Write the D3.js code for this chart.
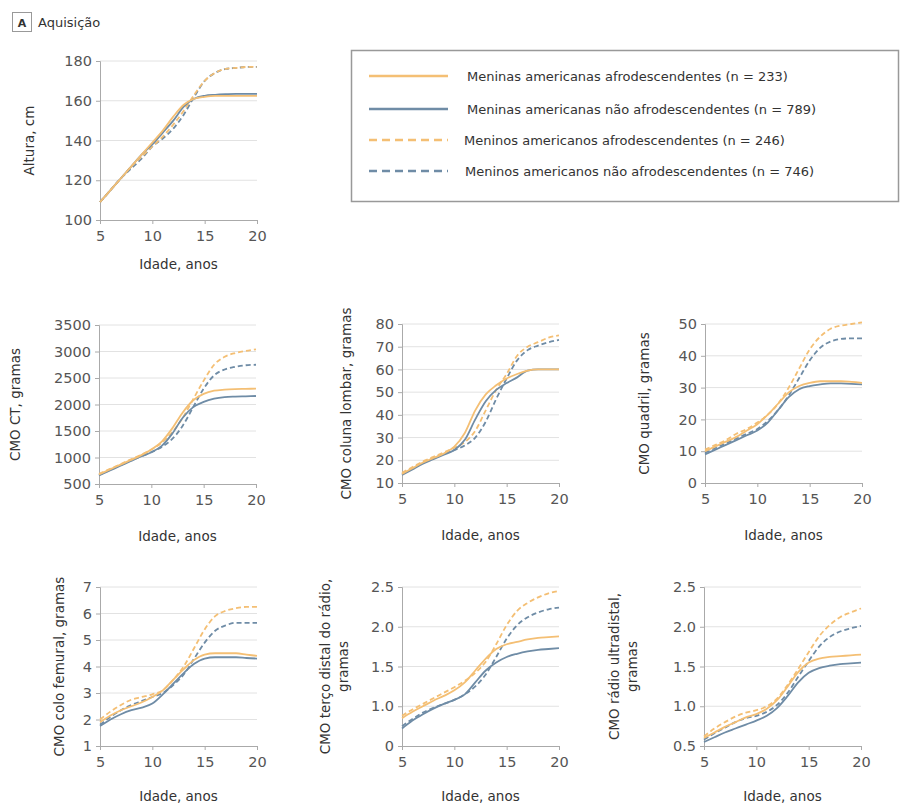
<!DOCTYPE html>
<html>
<head>
<meta charset="utf-8">
<script src="https://cdn.jsdelivr.net/npm/d3@7"></script>
<style>
  body { margin: 0; background: #fff; }
  .tick text { font-family: "DejaVu Sans", Verdana, sans-serif; fill: #555; }
  .axis-title { font-family: "DejaVu Sans", Verdana, sans-serif; font-size: 13.5px; fill: #333; }
</style>
</head>
<body>
<div id="chart"></div>
<script>
// ages (x values), shared by all panels
var ages = [5, 6, 7, 8, 9, 10, 11, 12, 13, 14, 15, 16, 17, 18, 19, 20];

var seriesNames = [
  "Meninas americanas afrodescendentes (n = 233)",
  "Meninas americanas não afrodescendentes (n = 789)",
  "Meninos americanos afrodescendentes (n = 246)",
  "Meninos americanos não afrodescendentes (n = 746)"
];

// Altura, cm
var alturaGirlsAfro    = [109, 115, 121, 127, 133, 139, 145, 152, 158, 161, 162, 162.5, 162.5, 162.5, 162.5, 162.5];
var alturaGirlsNonAfro = [109, 115, 121, 127, 133, 138, 144, 150, 157, 161, 162.5, 163, 163.3, 163.5, 163.5, 163.5];
var alturaBoysAfro     = [109, 115, 121, 127, 132, 137, 142, 148, 155, 163, 170, 174, 176, 176.5, 177, 177];
var alturaBoysNonAfro  = [109, 115, 121, 126, 131, 137, 141, 146, 153, 162, 170, 174, 176, 176.5, 177, 177];

// CMO CT, gramas
var ctGirlsAfro    = [680, 770, 860, 950, 1040, 1150, 1300, 1550, 1850, 2080, 2200, 2260, 2280, 2290, 2295, 2300];
var ctGirlsNonAfro = [660, 750, 840, 930, 1020, 1100, 1220, 1450, 1750, 1950, 2050, 2110, 2140, 2150, 2155, 2160];
var ctBoysAfro     = [690, 780, 870, 960, 1050, 1150, 1280, 1480, 1750, 2100, 2450, 2750, 2900, 2970, 3010, 3040];
var ctBoysNonAfro  = [670, 760, 850, 940, 1020, 1100, 1200, 1350, 1600, 1950, 2300, 2550, 2660, 2710, 2740, 2750];

// CMO coluna lombar, gramas
var lombarGirlsAfro    = [14, 16.5, 19, 21, 23, 26, 32, 42, 49, 53, 56, 58, 59.5, 60, 60, 60];
var lombarGirlsNonAfro = [13.5, 16, 18.5, 20.5, 22.5, 24.5, 29, 38, 46, 51, 54, 56.5, 59.5, 60, 60, 60];
var lombarBoysAfro     = [14.5, 17, 19.5, 21.5, 23.5, 25.5, 28, 33, 42, 51, 58, 66, 70, 72, 74, 75];
var lombarBoysNonAfro  = [14, 16.5, 19, 21, 23, 24.5, 26.5, 30, 37, 47, 56, 64, 68.5, 70.5, 72, 73];

// CMO quadril, gramas
var quadrilGirlsAfro    = [10, 11.5, 13, 14.5, 16.5, 18.5, 21.5, 25, 28.5, 30.5, 31.5, 32, 32, 32, 31.8, 31.5];
var quadrilGirlsNonAfro = [9, 10.5, 12, 13.5, 15, 16.5, 19, 23, 27, 29.5, 30.5, 31, 31.3, 31.3, 31.2, 31];
var quadrilBoysAfro     = [10.5, 12, 13.5, 15.5, 17, 19, 21.5, 25, 30, 36, 42, 46, 48.5, 49.5, 50, 50.5];
var quadrilBoysNonAfro  = [9.5, 11, 12.5, 14, 15.5, 17, 19.5, 23, 27.5, 33, 38.5, 42.5, 44.5, 45.3, 45.5, 45.5];

// CMO colo femural, gramas
var femurGirlsAfro    = [1.9, 2.15, 2.35, 2.5, 2.65, 2.85, 3.1, 3.5, 3.9, 4.25, 4.45, 4.5, 4.5, 4.5, 4.45, 4.4];
var femurGirlsNonAfro = [1.75, 2.0, 2.2, 2.35, 2.45, 2.6, 2.95, 3.35, 3.75, 4.1, 4.3, 4.35, 4.35, 4.35, 4.32, 4.3];
var femurBoysAfro     = [2.0, 2.3, 2.55, 2.75, 2.85, 2.95, 3.1, 3.5, 4.0, 4.7, 5.4, 5.9, 6.1, 6.2, 6.25, 6.25];
var femurBoysNonAfro  = [1.8, 2.1, 2.35, 2.55, 2.7, 2.85, 3.0, 3.3, 3.7, 4.3, 4.9, 5.35, 5.55, 5.65, 5.65, 5.65];

// CMO terço distal do rádio, gramas
var distalGirlsAfro    = [0.85, 0.93, 1.0, 1.07, 1.13, 1.2, 1.3, 1.45, 1.6, 1.72, 1.78, 1.81, 1.84, 1.86, 1.87, 1.88];
var distalGirlsNonAfro = [0.72, 0.82, 0.9, 0.97, 1.03, 1.08, 1.15, 1.3, 1.45, 1.55, 1.62, 1.66, 1.69, 1.71, 1.72, 1.73];
var distalBoysAfro     = [0.88, 0.96, 1.03, 1.1, 1.17, 1.24, 1.32, 1.42, 1.56, 1.78, 2.02, 2.2, 2.3, 2.37, 2.42, 2.45];
var distalBoysNonAfro  = [0.75, 0.84, 0.92, 0.98, 1.03, 1.08, 1.15, 1.25, 1.4, 1.62, 1.85, 2.02, 2.12, 2.18, 2.22, 2.24];

// CMO rádio ultradistal, gramas
var ultraGirlsAfro    = [0.6, 0.67, 0.74, 0.8, 0.86, 0.9, 0.97, 1.08, 1.25, 1.43, 1.55, 1.6, 1.62, 1.63, 1.64, 1.65];
var ultraGirlsNonAfro = [0.55, 0.61, 0.67, 0.72, 0.77, 0.82, 0.88, 0.98, 1.13, 1.3, 1.42, 1.48, 1.51, 1.53, 1.54, 1.55];
var ultraBoysAfro     = [0.62, 0.72, 0.8, 0.87, 0.92, 0.95, 1.0, 1.1, 1.27, 1.47, 1.68, 1.88, 2.02, 2.12, 2.18, 2.23];
var ultraBoysNonAfro  = [0.58, 0.66, 0.73, 0.8, 0.85, 0.88, 0.93, 1.02, 1.17, 1.37, 1.57, 1.75, 1.87, 1.94, 1.98, 2.01];

// y tick values and labels for each panel
var alturaTicks = [100, 120, 140, 160, 180];
var ctTicks = [500, 1000, 1500, 2000, 2500, 3000, 3500];
var lombarTicks = [10, 20, 30, 40, 50, 60, 70, 80];
var quadrilTicks = [0, 10, 20, 30, 40, 50];
var femurTicks = [1, 2, 3, 4, 5, 6, 7];
var distalTicks = [0.5, 1.0, 1.5, 2.0, 2.5];
var distalTickLabels = ["0", "1.0", "1.5", "2.0", "2.5"];
var ultraTicks = [0.5, 1.0, 1.5, 2.0, 2.5];
var ultraTickLabels = ["0.5", "1.0", "1.5", "2.0", "2.5"];
var xTicks = [5, 10, 15, 20];

var orange = "#f4bf74";
var blue = "#6f8ca6";
var colors = [orange, blue, orange, blue];
var dashes = [null, null, "5,3", "5,3"];

var svg = d3.select("#chart").append("svg")
  .attr("width", 912)
  .attr("height", 807);

// panel boxes: left/top of plot area
var panelW = 157, panelH = 159;
var panels = [
  { left: 100, top: 61, ticks: alturaTicks, labels: null, title: ["Altura, cm"], tx: 29, xt: 49,
    data: [alturaGirlsAfro, alturaGirlsNonAfro, alturaBoysAfro, alturaBoysNonAfro] },
  { left: 99, top: 325, ticks: ctTicks, labels: null, title: ["CMO CT, gramas"], tx: 15, xt: 57,
    data: [ctGirlsAfro, ctGirlsNonAfro, ctBoysAfro, ctBoysNonAfro] },
  { left: 402, top: 324, ticks: lombarTicks, labels: null, title: ["CMO coluna lombar, gramas"], tx: 346, xt: 57,
    data: [lombarGirlsAfro, lombarGirlsNonAfro, lombarBoysAfro, lombarBoysNonAfro] },
  { left: 705, top: 324, ticks: quadrilTicks, labels: null, title: ["CMO quadril, gramas"], tx: 644, xt: 57,
    data: [quadrilGirlsAfro, quadrilGirlsNonAfro, quadrilBoysAfro, quadrilBoysNonAfro] },
  { left: 100, top: 587, ticks: femurTicks, labels: null, title: ["CMO colo femural, gramas"], tx: 59, xt: 55,
    data: [femurGirlsAfro, femurGirlsNonAfro, femurBoysAfro, femurBoysNonAfro] },
  { left: 402, top: 587, ticks: distalTicks, labels: distalTickLabels, title: ["CMO terço distal do rádio,", "gramas"], tx: 325, xt: 55,
    data: [distalGirlsAfro, distalGirlsNonAfro, distalBoysAfro, distalBoysNonAfro] },
  { left: 704, top: 587, ticks: ultraTicks, labels: ultraTickLabels, title: ["CMO rádio ultradistal,", "gramas"], tx: 614, xt: 55,
    data: [ultraGirlsAfro, ultraGirlsNonAfro, ultraBoysAfro, ultraBoysNonAfro] }
];

panels.forEach(function(p) {
  var g = svg.append("g").attr("transform", `translate(${p.left}, ${p.top})`);

  var x = d3.scaleLinear().domain([5, 20]).range([0, panelW]);
  var y = d3.scaleLinear().domain(d3.extent(p.ticks)).range([panelH, 0]);

  // gridlines
  g.append("g").selectAll("line")
    .data(p.ticks.slice(1))
    .enter().append("line")
    .attr("x1", 0).attr("x2", panelW)
    .attr("y1", d => y(d)).attr("y2", d => y(d))
    .attr("stroke", "#e2e2e2");

  var yAxis = d3.axisLeft(y).tickValues(p.ticks).tickSize(4).tickPadding(4)
    .tickFormat((d, i) => p.labels ? p.labels[i] : d);
  var xAxis = d3.axisBottom(x).tickValues(xTicks).tickSize(4).tickPadding(7);

  var ya = g.append("g").call(yAxis);
  var xa = g.append("g").attr("transform", `translate(0, ${panelH})`).call(xAxis);
  [ya, xa].forEach(function(a) {
    a.select(".domain").attr("stroke", "#aaa");
    a.selectAll(".tick line").attr("stroke", "#aaa");
    a.selectAll("text").style("font-size", "14.5px");
  });

  // lines
  var line = d3.line()
    .x((d, i) => x(ages[i]))
    .y(d => y(d))
    .curve(d3.curveMonotoneX);

  // draw girls-afro last so its orange shows on top similar to reference
  [3, 2, 1, 0].forEach(function(k) {
    g.append("path")
      .attr("d", line(p.data[k]))
      .attr("fill", "none")
      .attr("stroke", colors[k])
      .attr("stroke-width", 1.8)
      .attr("stroke-dasharray", dashes[k]);
  });

  // x title
  svg.append("text")
    .attr("class", "axis-title")
    .attr("x", p.left + panelW / 2)
    .attr("y", p.top + panelH + p.xt)
    .attr("text-anchor", "middle")
    .text("Idade, anos");

  // y title (one or two lines)
  p.title.forEach(function(t, i) {
    svg.append("text")
      .attr("class", "axis-title")
      .attr("transform", `translate(${p.tx + i * 18}, ${p.top + panelH / 2}) rotate(-90)`)
      .attr("text-anchor", "middle")
      .attr("dy", "0.35em")
      .text(t);
  });
});

// "A Aquisição" header
svg.append("rect")
  .attr("x", 12.5).attr("y", 12.5)
  .attr("width", 19).attr("height", 19)
  .attr("fill", "#fff").attr("stroke", "#999");
svg.append("text")
  .attr("x", 22).attr("y", 26.5)
  .attr("text-anchor", "middle")
  .style("font-family", "DejaVu Sans, Verdana, sans-serif")
  .style("font-weight", "bold")
  .style("font-size", "11px")
  .attr("fill", "#333")
  .text("A");
svg.append("text")
  .attr("x", 38).attr("y", 26.5)
  .style("font-family", "DejaVu Sans, Verdana, sans-serif")
  .style("font-size", "13px")
  .attr("fill", "#333")
  .text("Aquisição");

// legend
var legend = svg.append("g");
legend.append("rect")
  .attr("x", 351.5).attr("y", 50.5)
  .attr("width", 547).attr("height", 151)
  .attr("fill", "#fff")
  .attr("stroke", "#999")
  .attr("stroke-width", 1.5);

var legendRows = [76, 109, 140, 171];
var legendTextX = [467, 467, 464, 465];
seriesNames.forEach(function(name, k) {
  legend.append("line")
    .attr("x1", 369).attr("x2", 448)
    .attr("y1", legendRows[k]).attr("y2", legendRows[k])
    .attr("stroke", colors[k])
    .attr("stroke-width", 2.5)
    .attr("stroke-dasharray", dashes[k] ? "8,5" : null);
  legend.append("text")
    .attr("x", legendTextX[k])
    .attr("y", legendRows[k])
    .attr("dy", "0.35em")
    .style("font-family", "DejaVu Sans, Verdana, sans-serif")
    .style("font-size", "13px")
    .attr("fill", "#333")
    .text(name);
});
</script>
</body>
</html>
